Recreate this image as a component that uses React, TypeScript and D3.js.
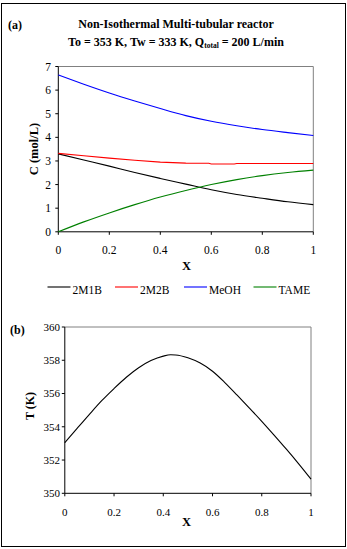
import React from "react";
import * as d3 from "d3";

const W = 347;
const H = 549;

// Panel (a): concentrations vs conversion X
const xA = [0, 0.1, 0.2, 0.3, 0.4, 0.5, 0.6, 0.7, 0.8, 0.9, 1.0];
const c2M1B = [3.3, 3.04, 2.78, 2.51, 2.26, 2.02, 1.78, 1.58, 1.42, 1.27, 1.15];
const cMeOH = [6.64, 6.25, 5.88, 5.54, 5.22, 4.92, 4.68, 4.49, 4.33, 4.2, 4.08];
const cTAME = [0.0, 0.42, 0.8, 1.15, 1.47, 1.75, 2.0, 2.21, 2.38, 2.51, 2.61];
const x2M2B = [0, 0.1, 0.2, 0.3, 0.4, 0.5, 0.59, 0.6, 0.69, 0.7, 0.8, 0.9, 1.0];
const c2M2B = [3.32, 3.22, 3.12, 3.03, 2.95, 2.91, 2.9, 2.87, 2.87, 2.89, 2.89, 2.89, 2.89];
const seriesNames = ["2M1B", "2M2B", "MeOH", "TAME"];
const seriesColors = ["#000000", "#FF0000", "#0000FF", "#008000"];
const yTicksA = [0, 1, 2, 3, 4, 5, 6, 7];
const xTicks = [0, 0.2, 0.4, 0.6, 0.8, 1];

// Panel (b): temperature vs X
const xB = [0, 0.05, 0.1, 0.15, 0.2, 0.25, 0.3, 0.35, 0.4, 0.43, 0.45, 0.5, 0.55, 0.6, 0.65, 0.7, 0.75, 0.8, 0.85, 0.9, 0.95, 1.0];
const tempK = [353.04, 353.9, 354.75, 355.57, 356.3, 356.98, 357.55, 357.98, 358.25, 358.33, 358.32, 358.15, 357.83, 357.34, 356.66, 355.9, 355.12, 354.33, 353.5, 352.65, 351.77, 350.85];
const yTicksB = [350, 352, 354, 356, 358, 360];

const FONT = "'Liberation Serif', 'Times New Roman', serif";

export default function App() {
  const xa = d3.scaleLinear().domain([0, 1]).range([58.3, 313.3]);
  const ya = d3.scaleLinear().domain([0, 7]).range([231.8, 66.5]);
  const xb = d3.scaleLinear().domain([0, 1]).range([64.8, 311]);
  const yb = d3.scaleLinear().domain([350, 360]).range([493.3, 327]);

  const smooth = (xs: number[], vals: number[]) =>
    d3.line<number>().x((_, i) => xa(xs[i])).y((d) => ya(d)).curve(d3.curveMonotoneX)(vals) || "";
  const straight = (xs: number[], vals: number[]) =>
    d3.line<number>().x((_, i) => xa(xs[i])).y((d) => ya(d))(vals) || "";

  const paths = [
    smooth(xA, c2M1B),
    straight(x2M2B, c2M2B),
    smooth(xA, cMeOH),
    smooth(xA, cTAME),
  ];
  const lineB =
    d3.line<number>().x((_, i) => xb(xB[i])).y((d) => yb(d)).curve(d3.curveMonotoneX)(tempK) || "";

  const legendX = [47.5, 115, 184, 253.5];

  return (
    <svg
      width={W}
      height={H}
      style={{ position: "absolute", left: 0, top: 0, background: "#fff" }}
      fontFamily={FONT}
    >
      <rect x={0} y={0} width={W} height={H} fill="#fff" />
      <rect x={1.5} y={3.5} width={344} height={543} fill="none" stroke="#000" strokeWidth={1} />

      {/* Titles */}
      <text x={8} y={29} fontSize={12} fontWeight="bold">(a)</text>
      <text x={176} y={28} fontSize={12} fontWeight="bold" textAnchor="middle">
        Non-Isothermal Multi-tubular reactor
      </text>
      <text x={176} y={46} fontSize={12} fontWeight="bold" textAnchor="middle">
        To = 353 K, Tw = 333 K,  Q
        <tspan fontSize={7.5} dy={2}>total</tspan>
        <tspan dy={-2}> = 200 L/min</tspan>
      </text>

      {/* Panel (a) frame */}
      <line x1={xa(0)} x2={xa(1)} y1={ya(7)} y2={ya(7)} stroke="#808080" />
      <line x1={xa(1)} x2={xa(1)} y1={ya(7)} y2={ya(0)} stroke="#808080" />
      <line x1={xa(0)} x2={xa(0)} y1={ya(7)} y2={ya(0)} stroke="#000" />
      <line x1={xa(0)} x2={xa(1)} y1={ya(0)} y2={ya(0)} stroke="#000" />
      {yTicksA.map((t) => (
        <g key={"ya" + t}>
          <line x1={xa(0) - 3} x2={xa(0)} y1={ya(t)} y2={ya(t)} stroke="#000" />
          <text x={51} y={ya(t)} dy="0.35em" fontSize={11.5} textAnchor="end">{t}</text>
        </g>
      ))}
      {xTicks.map((t) => (
        <g key={"xa" + t}>
          <line x1={xa(t)} x2={xa(t)} y1={ya(0)} y2={ya(0) + 3} stroke="#000" />
          <text x={xa(t)} y={254} fontSize={11.5} textAnchor="middle">{t}</text>
        </g>
      ))}
      <text x={186.5} y={270} fontSize={12.5} fontWeight="bold" textAnchor="middle">X</text>
      <text
        transform="translate(38,149) rotate(-90)"
        fontSize={12.5}
        fontWeight="bold"
        textAnchor="middle"
      >
        C (mol/L)
      </text>
      {paths.map((d, i) => (
        <path key={seriesNames[i]} d={d} fill="none" stroke={seriesColors[i]} strokeWidth={1.1} />
      ))}

      {/* Legend */}
      {seriesNames.map((n, i) => (
        <g key={"lg" + n}>
          <line x1={legendX[i]} x2={legendX[i] + 23} y1={287} y2={287} stroke={seriesColors[i]} strokeWidth={1.1} />
          <text x={legendX[i] + 25} y={294} fontSize={11.5}>{n}</text>
        </g>
      ))}

      {/* Panel (b) */}
      <text x={10} y={334} fontSize={12} fontWeight="bold">(b)</text>
      <line x1={xb(0)} x2={xb(1)} y1={yb(360)} y2={yb(360)} stroke="#808080" />
      <line x1={xb(1)} x2={xb(1)} y1={yb(360)} y2={yb(350)} stroke="#808080" />
      <line x1={xb(0)} x2={xb(0)} y1={yb(360)} y2={yb(350)} stroke="#000" />
      <line x1={xb(0)} x2={xb(1)} y1={yb(350)} y2={yb(350)} stroke="#000" />
      {yTicksB.map((t) => (
        <g key={"yb" + t}>
          <line x1={xb(0) - 3} x2={xb(0)} y1={yb(t)} y2={yb(t)} stroke="#000" />
          <text x={60} y={yb(t)} dy="0.35em" fontSize={11} textAnchor="end">{t}</text>
        </g>
      ))}
      {xTicks.map((t) => (
        <g key={"xb" + t}>
          <line x1={xb(t)} x2={xb(t)} y1={yb(350)} y2={yb(350) + 3} stroke="#000" />
          <text x={xb(t)} y={516} fontSize={11} textAnchor="middle">{t}</text>
        </g>
      ))}
      <text x={186.5} y={526} fontSize={12.5} fontWeight="bold" textAnchor="middle">X</text>
      <text
        transform="translate(34,406) rotate(-90)"
        fontSize={12}
        fontWeight="bold"
        textAnchor="middle"
      >
        T (K)
      </text>
      <path d={lineB} fill="none" stroke="#000" strokeWidth={1.1} />
    </svg>
  );
}
